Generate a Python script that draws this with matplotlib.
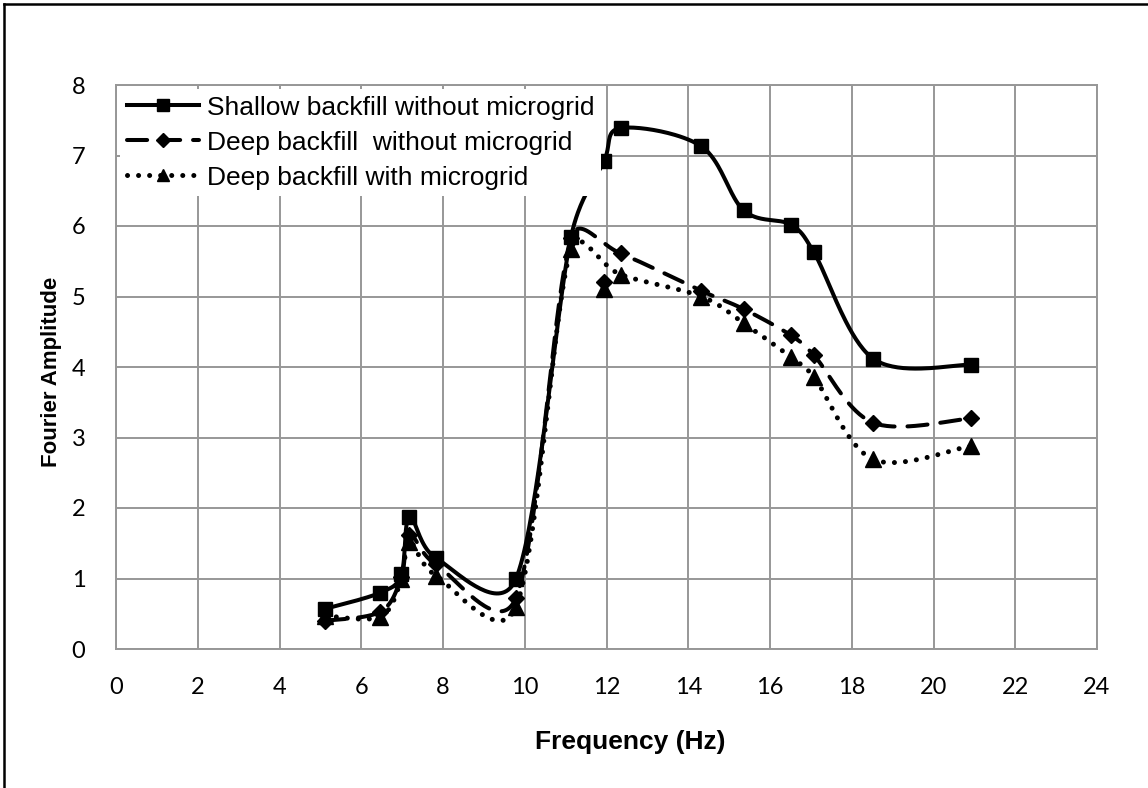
import numpy as np
import matplotlib
matplotlib.use("Agg")
import matplotlib.pyplot as plt
from matplotlib.lines import Line2D

# Frequencies (Hz) shared by all three records
freq = [5.12, 6.47, 6.98, 7.18, 7.83, 9.78, 11.13, 11.94, 12.35,
        14.32, 15.36, 16.51, 17.07, 18.52, 20.91]

# Fourier amplitude for each configuration
shallow_no_grid = [0.57, 0.80, 1.06, 1.87, 1.29, 0.99, 5.84, 6.92, 7.39,
                   7.13, 6.22, 6.02, 5.63, 4.12, 4.03]
deep_no_grid = [0.40, 0.53, 1.02, 1.62, 1.20, 0.72, 5.83, 5.21, 5.61,
                5.08, 4.82, 4.45, 4.17, 3.21, 3.27]
deep_with_grid = [0.47, 0.46, 0.99, 1.52, 1.04, 0.59, 5.67, 5.11, 5.31,
                  5.00, 4.62, 4.14, 3.86, 2.69, 2.88]

# readings shown as markers only (not joined by the smoothed line)
marker_only = [[], [7], [7]]

labels = ["Shallow backfill without microgrid",
          "Deep backfill  without microgrid",
          "Deep backfill with microgrid"]

x_ticks = list(range(0, 25, 2))
y_ticks = list(range(0, 9))

W, H = 1148, 788
left, right, top, bottom = 116, 1097, 85, 649
XMAX, YMAX = 24, 8
SX = (right - left) / XMAX      # pixels per Hz
SY = (bottom - top) / YMAX      # pixels per amplitude unit


def smooth_curve(x, y, n=40):
    """Spreadsheet-style smoothed line: cubic Beziers whose control arms are
    1/6 of the neighbour chord, capped at half the segment length (screen space)."""
    pts = np.column_stack([np.asarray(x, float) * SX, np.asarray(y, float) * SY])
    out = []
    for i in range(len(pts) - 1):
        p0 = pts[i - 1] if i > 0 else pts[i]
        p1 = pts[i]
        p2 = pts[i + 1]
        p3 = pts[i + 2] if i + 2 < len(pts) else pts[i + 1]
        d12 = np.hypot(*(p2 - p1))
        v1 = (p2 - p0) / 6.0
        v2 = (p3 - p1) / 6.0
        for v in (v1, v2):
            m = np.hypot(*v)
            if m > d12 / 2 and m > 0:
                v *= (d12 / 2) / m
        c1 = p1 + v1
        c2 = p2 - v2
        t = np.linspace(0, 1, n)[:, None]
        seg = ((1 - t) ** 3) * p1 + 3 * ((1 - t) ** 2) * t * c1 \
            + 3 * (1 - t) * t ** 2 * c2 + t ** 3 * p2
        out.append(seg if i == 0 else seg[1:])
    c = np.vstack(out)
    return c[:, 0] / SX, c[:, 1] / SY


fig = plt.figure(figsize=(W / 100, H / 100), dpi=100)
fig.patch.set_facecolor("white")
ax = fig.add_axes([left / W, 1 - bottom / H, (right - left) / W, (bottom - top) / H])

grid_col = "#979797"
ax.set_xlim(0, XMAX)
ax.set_ylim(0, YMAX)
ax.set_xticks(x_ticks)
ax.set_yticks(y_ticks)
ax.grid(True, color=grid_col, linewidth=1.4)
ax.set_axisbelow(True)
for s in ax.spines.values():
    s.set_color(grid_col)
    s.set_linewidth(1.4)
ax.tick_params(length=0, labelsize=17, colors="black")
ax.tick_params(axis="x", pad=20)
ax.tick_params(axis="y", pad=22)
for lbl in ax.get_xticklabels() + ax.get_yticklabels():
    lbl.set_fontfamily("Lato")

styles = [
    dict(ls="-", marker="s", ms=10.5, lw=2.9),
    dict(ls=(0, (5, 3.2)), marker="D", ms=8.5, lw=2.9),
    dict(ls=(0, (0.01, 2.2)), marker="^", ms=11, lw=3.6),
]
series = [shallow_no_grid, deep_no_grid, deep_with_grid]

handles = []
for vals, st, lab, skip in zip(series, styles, labels, marker_only):
    keep = [i for i in range(len(freq)) if i not in skip]
    cx, cy = smooth_curve([freq[i] for i in keep], [vals[i] for i in keep])
    ax.plot(cx, cy, color="black", linestyle=st["ls"], lw=st["lw"],
            solid_capstyle="round", dash_capstyle="round", zorder=3)
    ax.plot(freq, vals, linestyle="none", marker=st["marker"], ms=st["ms"],
            color="black", zorder=4)
    handles.append(Line2D([], [], color="black", linestyle=st["ls"], lw=st["lw"],
                          marker=st["marker"], ms=st["ms"] * 0.85,
                          dash_capstyle="round", label=lab))

leg = ax.legend(handles=handles, loc="upper left", bbox_to_anchor=(0.0, 1.0),
                borderaxespad=0.15, frameon=True, fancybox=False,
                facecolor="white", edgecolor="none", framealpha=1.0,
                prop={"family": "Liberation Sans", "size": 19},
                handlelength=2.75, handletextpad=0.3, labelspacing=0.42,
                borderpad=0.25, numpoints=1)
leg.set_zorder(10)

fig.text(630 / W, 1 - 742 / H, "Frequency (Hz)", ha="center", va="center",
         fontsize=19, fontweight="bold", family="Liberation Sans")
fig.text(52 / W, 1 - 372 / H, "Fourier Amplitude", ha="center", va="center",
         rotation=90, fontsize=16, fontweight="bold", family="Liberation Sans")

# Outer chart border (left and top edges)
fig.add_artist(Line2D([4 / W, 4 / W], [0, 1 - 4 / H], transform=fig.transFigure,
                      color="black", lw=1.8))
fig.add_artist(Line2D([4 / W, 1], [1 - 4 / H, 1 - 4 / H], transform=fig.transFigure,
                      color="black", lw=1.8))

fig.savefig("out.png", dpi=100, facecolor="white")
